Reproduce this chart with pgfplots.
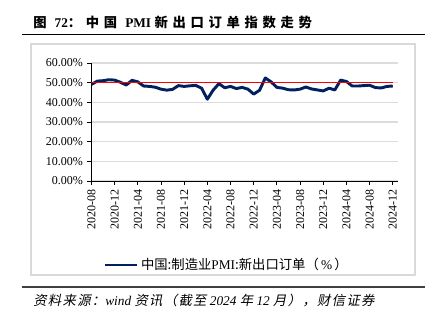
\documentclass[border=0pt]{standalone}
\usepackage{pgfplots}
\pgfplotsset{compat=1.18}
\usepackage{fontspec}
\setmainfont{Liberation Serif}
\newfontfamily\cjk{Noto Sans CJK SC}
\newfontfamily\cjkt{Noto Sans CJK SC}[LetterSpace=35]
\newfontfamily\cjks{Noto Sans CJK SC}[FakeSlant=0.2,LetterSpace=10]
\definecolor{navy}{RGB}{0,32,96}
\definecolor{gridgray}{RGB}{220,220,220}
\definecolor{boxgray}{RGB}{217,217,217}
\begin{document}
\begin{tikzpicture}
\path[use as bounding box] (0,0) rectangle (327pt,242.25pt);
% title
\node[anchor=west,inner sep=0pt] at (24.75pt,225.75pt) {\fontsize{10}{12}\selectfont{\cjkt\bfseries 图} \textbf{72}{\cjkt\bfseries ：中国} \textbf{PMI} {\cjkt\bfseries 新出口订单指数走势}};
\draw[black,line width=1.1pt] (16.5pt,216.4pt) -- (318.75pt,216.4pt);
% frame
\draw[boxgray,line width=0.8pt] (23.25pt,36pt) rectangle (311.25pt,209.25pt);
% source
\draw[black!75,line width=1.1pt] (16.5pt,27pt) -- (318.75pt,27pt);
\node[anchor=west,inner sep=0pt] at (24.75pt,16.5pt) {\fontsize{10}{12}\selectfont{\cjks 资料来源：}\textit{wind} {\cjks 资讯（截至} \textit{2024} {\cjks 年} \textit{12} {\cjks 月），财信证券}};
\begin{axis}[
  at={(68.6pt,106.5pt)}, anchor=south west,
  scale only axis, width=229.9pt, height=88.5pt,
  xmin=0, xmax=52.9, ymin=0, ymax=60,
  axis lines=left,
  axis line style={-, black, line width=0.6pt},
  xtick={0,4,...,52},
  xticklabels={2020-08,2020-12,2021-04,2021-08,2021-12,2022-04,2022-08,2022-12,2023-04,2023-08,2023-12,2024-04,2024-08,2024-12},
  xticklabel style={rotate=90, anchor=east, font=\fontsize{9}{10}\selectfont},
  ytick={0,10,20,30,40,50,60},
  yticklabels={0.00\%,10.00\%,20.00\%,30.00\%,40.00\%,50.00\%,60.00\%},
  yticklabel style={font=\fontsize{9}{10}\selectfont},
  tick align=outside, major tick length=3pt,
  tick style={black, line width=0.6pt},
  ymajorgrids, grid style={gridgray, line width=0.9pt},
  legend style={at={(0.442,-0.712)}, anchor=center, draw=none, fill=none,
    font=\fontsize{10}{11}\selectfont, inner sep=0pt},
  legend image code/.code={\draw[#1] (0pt,0pt) -- (24pt,0pt);},
]
\addplot[navy, line width=2.2pt, line join=round] coordinates {
(0,49.1)(1,50.8)(2,51.0)(3,51.5)(4,51.3)(5,50.2)(6,48.8)(7,51.2)(8,50.4)(9,48.3)
(10,48.1)(11,47.7)(12,46.7)(13,46.2)(14,46.6)(15,48.5)(16,48.1)(17,48.4)(18,48.6)(19,47.2)
(20,41.6)(21,46.2)(22,49.5)(23,47.4)(24,48.1)(25,47.0)(26,47.6)(27,46.7)(28,44.2)(29,46.1)
(30,52.4)(31,50.4)(32,47.6)(33,47.2)(34,46.4)(35,46.3)(36,46.7)(37,47.8)(38,46.8)(39,46.3)
(40,45.8)(41,47.2)(42,46.3)(43,51.3)(44,50.6)(45,48.3)(46,48.3)(47,48.5)(48,48.7)(49,47.5)
(50,47.3)(51,48.1)(52,48.3)};
\addlegendentry{{\cjk 中国:制造业}PMI{\cjk :新出口订单（}\,\%\,{\cjk ）}}
\addplot[red, line width=0.8pt, forget plot] coordinates {(0,50)(52,50)};
\end{axis}
\end{tikzpicture}
\end{document}
